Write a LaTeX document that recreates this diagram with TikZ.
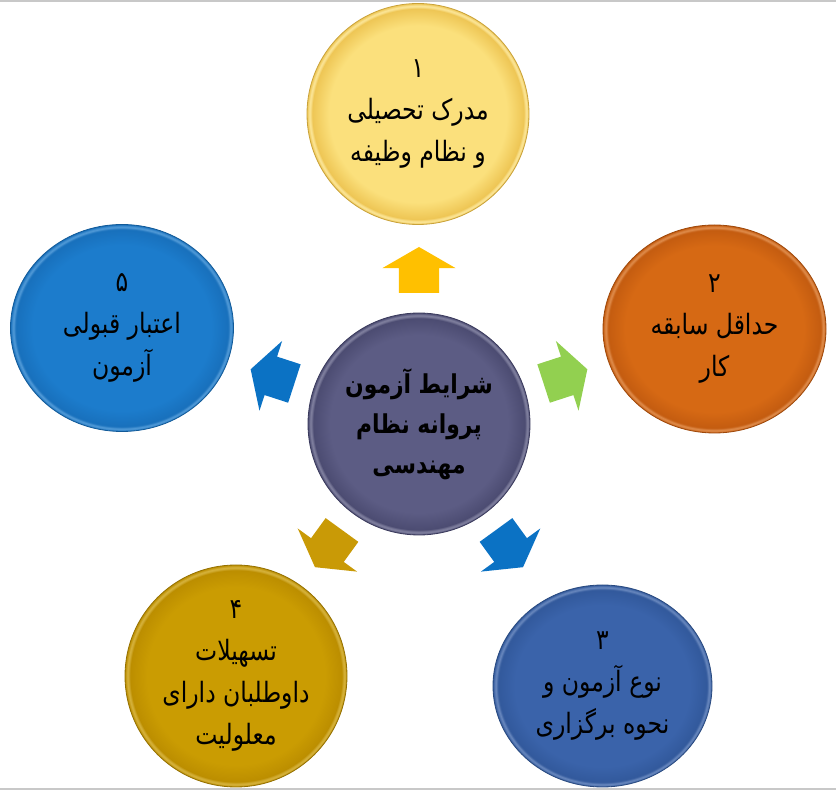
\documentclass[tikz,border=0pt]{standalone}
\usepackage{fontspec}
\newfontfamily\arabicfont[Script=Arabic, FakeStretch=0.84]{DejaVu Sans}
\TeXXeTstate=1
\usetikzlibrary{shapes.geometric,shapes.arrows,positioning}
\definecolor{framegray}{HTML}{C8C8C8}
\definecolor{hubin}{HTML}{5C5C84}
\definecolor{hubout}{HTML}{4C4C72}
\definecolor{hubline}{HTML}{3A3A5C}
\definecolor{yelin}{HTML}{FBE07C}
\definecolor{yelout}{HTML}{EEC655}
\definecolor{yelline}{HTML}{C9A23A}
\definecolor{orain}{HTML}{D66914}
\definecolor{oraout}{HTML}{C45C10}
\definecolor{oraline}{HTML}{9E480A}
\definecolor{navin}{HTML}{3A63AA}
\definecolor{navout}{HTML}{32599C}
\definecolor{navline}{HTML}{28497F}
\definecolor{goldin}{HTML}{CA9C02}
\definecolor{goldout}{HTML}{BC8E00}
\definecolor{goldline}{HTML}{947000}
\definecolor{skyin}{HTML}{1C7CCC}
\definecolor{skyout}{HTML}{1870BC}
\definecolor{skyline}{HTML}{125A98}
\definecolor{arrowyel}{HTML}{FFC000}
\definecolor{arrowgreen}{HTML}{92D050}
\definecolor{arrowblue}{HTML}{0B72C4}
\definecolor{arrowgold}{HTML}{C99A06}
\colorlet{ringin}{white}
\colorlet{ringout}{gray}
\pgfdeclareradialshading[ringin,ringout]{bevel}{\pgfpoint{0bp}{0bp}}{color(0bp)=(ringin); color(20bp)=(ringin); color(23.8bp)=(ringout); color(24.4bp)=(ringin!75!white); color(25bp)=(ringout); color(50bp)=(ringout)}
\tikzset
{
    ringcolors/.code 2 args = {\colorlet{ringin}{#1}\colorlet{ringout}{#2}},
    topic/.style      = {ellipse, draw, shading=bevel, align=center, inner sep=-50pt, line width=0.8pt, font=\arabicfont\fontsize{28}{42}\selectfont},
    centrenode/.style = {topic, font=\arabicfont\bfseries\fontsize{26}{40}\selectfont},
    pointer/.style    = {single arrow, single arrow tip angle=120, single arrow head extend=16.5pt, inner xsep=0pt, inner ysep=20pt, minimum height=46pt, outer sep=0pt, anchor=tip}
}
\begin{document}
\begin{tikzpicture}[x=1pt, y=1pt]
\useasboundingbox (0,0) rectangle (836,790);
\draw[framegray, line width=1.5pt] (0,789) -- (836,789);
\draw[framegray, line width=1.5pt] (0,1) -- (836,1);
\newcommand\tipDist{177pt}
\node(h) [centrenode, minimum width=222pt, minimum height=222pt, ringcolors={hubin}{hubout}, draw=hubline] at (419,366) {\beginR شرایط آزمون\endR\\\beginR پروانه نظام\endR\\\beginR مهندسی\endR};
\node(c1) [topic, minimum width=222pt, minimum height=221pt, ringcolors={yelin}{yelout}, draw=yelline] at (418,676) {\beginR ۱\endR\\\beginR مدرک تحصیلی\endR\\\beginR و نظام وظیفه\endR};
\node(c2) [topic, minimum width=223pt, minimum height=208pt, ringcolors={orain}{oraout}, draw=oraline] at (714.5,461) {\beginR ۲\endR\\\beginR حداقل سابقه\endR\\\beginR کار\endR};
\node(c3) [topic, minimum width=219pt, minimum height=202pt, ringcolors={navin}{navout}, draw=navline] at (602.5,104) {\beginR ۳\endR\\\beginR نوع آزمون و\endR\\\beginR نحوه برگزاری\endR};
\node(c4) [topic, minimum width=222pt, minimum height=222pt, ringcolors={goldin}{goldout}, draw=goldline] at (236,114) {\beginR ۴\endR\\\beginR تسهیلات\endR\\\beginR داوطلبان دارای\endR\\\beginR معلولیت\endR};
\node(c5) [topic, minimum width=223pt, minimum height=207pt, ringcolors={skyin}{skyout}, draw=skyline] at (122,462) {\beginR ۵\endR\\\beginR اعتبار قبولی\endR\\\beginR آزمون\endR};
\node(a1) [pointer, fill=arrowyel, rotate=90] at ([shift={(90:\tipDist)}]h.center) {};
\node(a2) [pointer, fill=arrowgreen, rotate=18] at ([shift={(18:\tipDist)}]h.center) {};
\node(a3) [pointer, fill=arrowblue, rotate=-54] at ([shift={(-54:\tipDist)}]h.center) {};
\node(a4) [pointer, fill=arrowgold, rotate=-126] at ([shift={(-126:\tipDist)}]h.center) {};
\node(a5) [pointer, fill=arrowblue, rotate=162] at ([shift={(162:\tipDist)}]h.center) {};
\end{tikzpicture}
\end{document}
